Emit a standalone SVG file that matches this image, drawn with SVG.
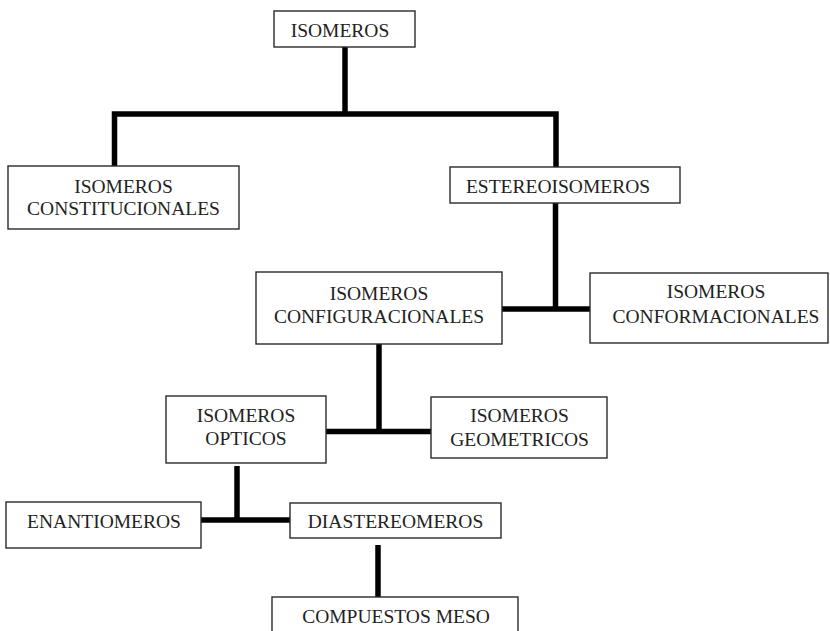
<svg xmlns="http://www.w3.org/2000/svg" width="830" height="631" viewBox="0 0 830 631">
<style>
.box{fill:#fff;stroke:#2a2a2a;stroke-width:1.4}
.t{font-family:"Liberation Serif","Times New Roman",serif;font-size:19.5px;fill:#222;text-anchor:middle}
.c{fill:none;stroke:#000;stroke-width:5.5;stroke-linejoin:miter}
</style>
<rect width="830" height="631" fill="#fff"/>
<g id="connectors">
<path class="c" d="M345,47 V112"/>
<path class="c" d="M114.5,166 V114 H556 V167"/>
<path class="c" d="M555.5,203 V309"/>
<path class="c" d="M502,309 H590"/>
<path class="c" d="M379,344 V431"/>
<path class="c" d="M326,431.5 H431"/>
<path class="c" d="M237,466 V520"/>
<path class="c" d="M201,520 H290"/>
<path class="c" d="M378,545 V597"/>
</g>
<g id="isomeros">
<rect class="box" x="274" y="11" width="141" height="36"/>
<text class="t" x="340" y="37">ISOMEROS</text>
</g>
<g id="constitucionales">
<rect class="box" x="8" y="166" width="231" height="63"/>
<text class="t" x="123.5" y="193">ISOMEROS</text>
<text class="t" x="123.5" y="215">CONSTITUCIONALES</text>
</g>
<g id="estereoisomeros">
<rect class="box" x="450" y="167" width="230" height="36"/>
<text class="t" x="558" y="193">ESTEREOISOMEROS</text>
</g>
<g id="configuracionales">
<rect class="box" x="256" y="272" width="246" height="72"/>
<text class="t" x="379" y="300">ISOMEROS</text>
<text class="t" x="379" y="323">CONFIGURACIONALES</text>
</g>
<g id="conformacionales">
<rect class="box" x="590" y="273" width="238" height="70"/>
<text class="t" x="716" y="298">ISOMEROS</text>
<text class="t" x="716" y="323">CONFORMACIONALES</text>
</g>
<g id="opticos">
<rect class="box" x="166" y="396" width="160" height="67"/>
<text class="t" x="246" y="422">ISOMEROS</text>
<text class="t" x="246" y="445">OPTICOS</text>
</g>
<g id="geometricos">
<rect class="box" x="431" y="397" width="176" height="61"/>
<text class="t" x="519.5" y="422">ISOMEROS</text>
<text class="t" x="519.5" y="446">GEOMETRICOS</text>
</g>
<g id="enantiomeros">
<rect class="box" x="6" y="502" width="195" height="46"/>
<text class="t" x="104" y="528">ENANTIOMEROS</text>
</g>
<g id="diastereomeros">
<rect class="box" x="290" y="503" width="211" height="35"/>
<text class="t" x="395.5" y="528">DIASTEREOMEROS</text>
</g>
<g id="compuestos-meso">
<rect class="box" x="272" y="597" width="246" height="50"/>
<text class="t" x="396" y="623">COMPUESTOS MESO</text>
</g>
</svg>
